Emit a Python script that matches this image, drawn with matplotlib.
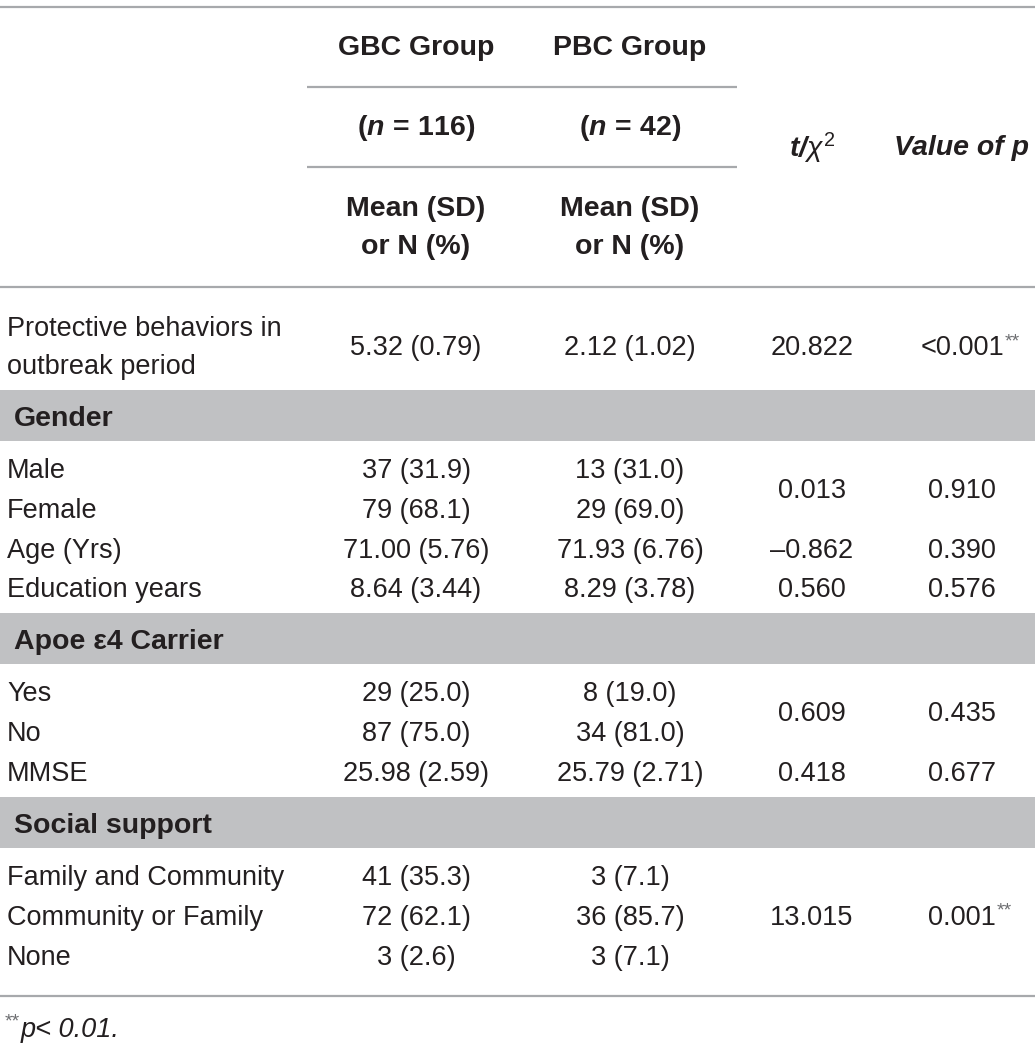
import matplotlib
matplotlib.use("Agg")
import matplotlib.pyplot as plt

plt.rcParams["font.family"] = ["Liberation Sans", "DejaVu Sans"]
plt.rcParams.update({
    "mathtext.fontset": "custom",
    "mathtext.rm": "Liberation Sans",
    "mathtext.it": "Liberation Sans:italic",
    "mathtext.bf": "Liberation Sans:bold",
    "mathtext.bfit": "Liberation Sans:italic:bold",
})

W, H = 1035, 1049
INK = "#231f20"
STAR = "#6d6e71"
RULE = "#a7a9ac"
BAND = "#c0c1c3"

# ── table content ────────────────────────────────────────────────────────────
GROUPS = ["GBC Group", "PBC Group"]
GROUP_N = ["116", "42"]
STAT_HEAD = "Mean (SD)\nor N (%)"

SECTIONS = [None, "Gender", "Apoe ε4 Carrier", "Social support"]
ROW_LABELS = [
    ["Protective behaviors in\noutbreak period"],
    ["Male", "Female", "Age (Yrs)", "Education years"],
    ["Yes", "No", "MMSE"],
    ["Family and Community", "Community or Family", "None"],
]
GBC_VALUES = [
    ["5.32 (0.79)"],
    ["37 (31.9)", "79 (68.1)", "71.00 (5.76)", "8.64 (3.44)"],
    ["29 (25.0)", "87 (75.0)", "25.98 (2.59)"],
    ["41 (35.3)", "72 (62.1)", "3 (2.6)"],
]
PBC_VALUES = [
    ["2.12 (1.02)"],
    ["13 (31.0)", "29 (69.0)", "71.93 (6.76)", "8.29 (3.78)"],
    ["8 (19.0)", "34 (81.0)", "25.79 (2.71)"],
    ["3 (7.1)", "36 (85.7)", "3 (7.1)"],
]
# (first row, last row, t/chi2, p, significant) - tests may span several rows
TESTS = [
    [(0, 0, "20.822", "<0.001", True)],
    [(0, 1, "0.013", "0.910", False), (2, 2, "\u20130.862", "0.390", False),
     (3, 3, "0.560", "0.576", False)],
    [(0, 1, "0.609", "0.435", False), (2, 2, "0.418", "0.677", False)],
    [(0, 2, "13.015", "0.001", True)],
]

fig = plt.figure(figsize=(W / 100, H / 100), dpi=100)
ax = fig.add_axes([0, 0, 1, 1])
ax.set_xlim(0, W)
ax.set_ylim(H, 0)
ax.axis("off")
renderer = fig.canvas.get_renderer()

FS = 19.5
FS_HEAD = 20.5
FS_STAR = 14
X_LAB, X_GBC, X_PBC, X_T, X_P = 7, 416, 630, 812, 962


def rule(y, x0=0, x1=W, lw=1.6):
    ax.plot([x0, x1], [y, y], color=RULE, lw=lw, solid_capstyle="butt")


def txt(x, y, s, ha="center", bold=False, italic=False, size=FS, **kw):
    kw.setdefault("color", INK)
    return ax.text(x, y, s, ha=ha, va="center", fontsize=size,
                   fontweight="bold" if bold else "normal",
                   fontstyle="italic" if italic else "normal", **kw)


def stars(x, y):
    # small grey ** placed at pixel position (x, top y)
    ax.text(x, y, "**", fontsize=FS_STAR, color=STAR, ha="left", va="top")


def sig_text(x, y, s):
    t = txt(x, y, s)
    bb = t.get_window_extent(renderer=renderer)
    stars(bb.x1 + 1, H - bb.y1 - 2)


# ── header ───────────────────────────────────────────────────────────────────
rule(7)
for x, g, n in zip([X_GBC, X_PBC], GROUPS, GROUP_N):
    txt(x, 48, g, bold=True, size=FS_HEAD)
    txt(x, 128, rf"$\mathbf{{(}}\mathbfit{{n}}\mathbf{{\,=\,{n})}}$", size=FS_HEAD)
    txt(x, 228, STAT_HEAD, bold=True, size=FS_HEAD, linespacing=1.55)
rule(87, 307, 737)
rule(167, 307, 737)
txt(X_T, 148, r"$\mathbfit{t/}\chi^{2}$", size=FS_HEAD)
txt(X_P, 148, "Value of p", bold=True, italic=True, size=FS_HEAD)
rule(287)

# ── body ─────────────────────────────────────────────────────────────────────
ROW_H = 39.8
y = 287
for sec, labels, gbc, pbc, tests in zip(SECTIONS, ROW_LABELS, GBC_VALUES,
                                        PBC_VALUES, TESTS):
    if sec is None:
        yc = y + 61
        txt(X_LAB, yc, labels[0], ha="left", linespacing=1.6)
        txt(X_GBC, yc, gbc[0])
        txt(X_PBC, yc, pbc[0])
        rows_y = [yc]
        y = y + 103
    else:
        ax.add_patch(plt.Rectangle((0, y), W, 51, color=BAND, lw=0))
        txt(X_LAB + 7, y + 29, sec, ha="left", bold=True, size=FS_HEAD)
        y0 = y + 81
        rows_y = [y0 + i * ROW_H for i in range(len(labels))]
        for yy, lab, a, b in zip(rows_y, labels, gbc, pbc):
            txt(X_LAB, yy, lab, ha="left")
            txt(X_GBC, yy, a)
            txt(X_PBC, yy, b)
        y = rows_y[-1] + 23
    for r0, r1, tval, pval, sig in tests:
        yy = (rows_y[r0] + rows_y[r1]) / 2
        txt(X_T, yy, tval)
        if sig:
            sig_text(X_P, yy, pval)
        else:
            txt(X_P, yy, pval)

rule(996)
stars(5, 1013)
txt(21, 1030, "p< 0.01.", ha="left", italic=True)

fig.savefig("out.png", dpi=100)
